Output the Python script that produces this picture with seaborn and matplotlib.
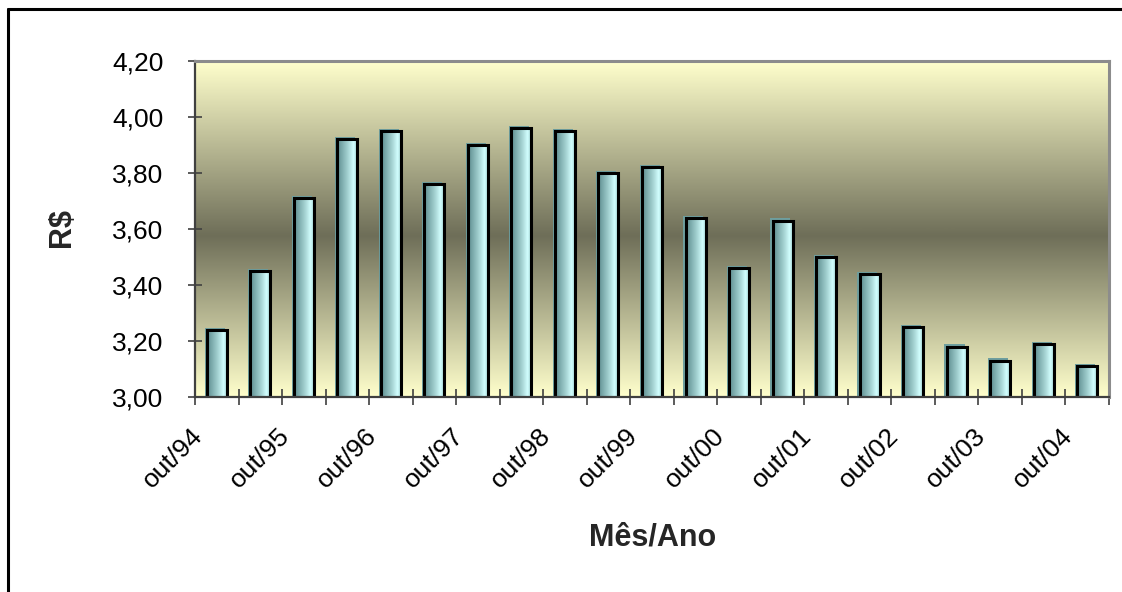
import numpy as np
import matplotlib
matplotlib.use("Agg")
import matplotlib.pyplot as plt
import matplotlib.transforms as mtransforms
from matplotlib.colors import LinearSegmentedColormap
from matplotlib.lines import Line2D
import seaborn as sns

# Semiannual periods, October 1994 to October 2004
periods = ["out/94", "abr/95", "out/95", "abr/96", "out/96", "abr/97", "out/97",
           "abr/98", "out/98", "abr/99", "out/99", "abr/00", "out/00", "abr/01",
           "out/01", "abr/02", "out/02", "abr/03", "out/03", "abr/04", "out/04"]
values = [3.24, 3.45, 3.71, 3.92, 3.95, 3.76, 3.90, 3.96, 3.95, 3.80, 3.82,
          3.64, 3.46, 3.63, 3.50, 3.44, 3.25, 3.18, 3.13, 3.19, 3.11]
y_ticks = [3.00, 3.20, 3.40, 3.60, 3.80, 4.00, 4.20]

sns.set_theme(style="white")
plt.rcParams["font.family"] = ["Liberation Sans", "DejaVu Sans"]

W, H, DPI = 1122, 592, 100
fig = plt.figure(figsize=(W / DPI, H / DPI), dpi=DPI)
fig.patch.set_facecolor("white")

left, right, top, bottom = 195, 1109, 61, 397
ax = fig.add_axes([left / W, 1 - bottom / H, (right - left) / W, (bottom - top) / H])

sns.barplot(x=periods, y=values, ax=ax, width=0.46, color="#A6D4D4",
            edgecolor="black", linewidth=2.2, saturation=1)

ax.set_xlim(-0.5, len(periods) - 0.5)
ax.set_ylim(y_ticks[0], y_ticks[-1])

# plot-area background: light yellow fading to olive in the middle
bg_cmap = LinearSegmentedColormap.from_list(
    "bg", [(0.0, "#FFFFCC"), (0.48, "#6E6E58"), (1.0, "#FFFFCC")])
grad = np.linspace(0, 1, 256).reshape(-1, 1)
ax.imshow(grad, cmap=bg_cmap, aspect="auto", zorder=0,
          extent=[-0.5, len(periods) - 0.5, y_ticks[-1], y_ticks[0]],
          interpolation="bicubic")

# horizontal shading on each bar
bar_cmap = LinearSegmentedColormap.from_list(
    "bar", [(0.0, "#5C8C8E"), (0.55, "#A8D6D6"), (0.8, "#D2FFFF"), (1.0, "#96C4C4")])
hgrad = np.linspace(0, 1, 128).reshape(1, -1)
for p in ax.patches:
    x0, y0 = p.get_x(), p.get_y()
    w, h = p.get_width(), p.get_height()
    # slight depth offset behind the bar
    ax.add_patch(plt.Rectangle((x0 - 0.05, y0), w, h + 0.008, facecolor="#6E9E9E",
                               edgecolor="none", zorder=1.5))
    ax.imshow(hgrad, cmap=bar_cmap, aspect="auto", zorder=2,
              extent=[x0, x0 + w, y0, y0 + h], interpolation="bilinear")
    p.set_facecolor("none")
    p.set_zorder(3)

ax.set_xlim(-0.5, len(periods) - 0.5)
ax.set_ylim(y_ticks[0], y_ticks[-1])

# axes, ticks and labels
for s in ["left", "bottom"]:
    ax.spines[s].set_color("#404040")
    ax.spines[s].set_linewidth(1.6)
for s in ["top", "right"]:
    ax.spines[s].set_color("#8C8C8C")
    ax.spines[s].set_linewidth(2.2)
ax.spines["bottom"].set_zorder(5)

ax.set_yticks(y_ticks)
ax.set_yticklabels([f"{v:.2f}".replace(".", ",") for v in y_ticks])
ax.tick_params(axis="y", direction="inout", length=9.4, width=1.2, color="#404040",
               pad=18, labelsize=19, labelcolor="black", left=True)

label_pos = list(range(0, len(periods), 2))
ax.set_xticks(label_pos)
ax.set_xticklabels([periods[i] for i in label_pos])
ax.set_xticks(np.arange(-0.5, len(periods)), minor=True)
ax.tick_params(axis="x", which="major", length=0, pad=25, labelsize=19,
               labelcolor="black")
ax.tick_params(axis="x", which="minor", direction="inout", length=11, width=1.2,
               color="#404040", bottom=True)
shift = mtransforms.ScaledTranslation(-18 / DPI, 0, fig.dpi_scale_trans)
for lbl in ax.get_xticklabels():
    lbl.set_rotation(45)
    lbl.set_ha("right")
    lbl.set_va("center")
    lbl.set_rotation_mode("anchor")
    lbl.set_transform(lbl.get_transform() + shift)
ax.set_xlabel("")
ax.set_ylabel("")

fig.text(653 / W, 1 - 538 / H, "Mês/Ano", ha="center", va="center",
         fontsize=22, fontweight="bold")
fig.text(62 / W, 1 - 228 / H, "R$", ha="center", va="center", rotation=90,
         fontsize=22, fontweight="bold")

# outer chart frame (top and left edges)
fig.add_artist(Line2D([8 / W, 1.0], [1 - 9 / H, 1 - 9 / H], color="black",
                      lw=2.2, transform=fig.transFigure))
fig.add_artist(Line2D([8 / W, 8 / W], [1 - 9 / H, 0.0], color="black",
                      lw=2.2, transform=fig.transFigure))

fig.savefig("out.png", dpi=DPI)
